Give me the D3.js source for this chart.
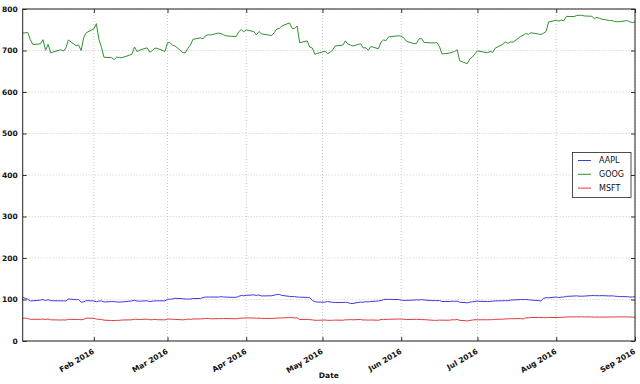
<!DOCTYPE html>
<html><head><meta charset="utf-8">
<script src="https://cdn.jsdelivr.net/npm/d3@7"></script>
<style>
html,body{margin:0;padding:0;background:#fff;}
text{font-family:"DejaVu Sans","Liberation Sans",sans-serif;}
</style>
</head><body>
<svg id="chart" width="640" height="384"></svg>
<script>
// Trading calendar: Jan 4 2016 .. Sep 1 2016, weekdays minus market holidays
const startDate = "2016-01-04";
const endDate = "2016-09-01";
const holidays = ["2016-01-18","2016-02-15","2016-03-25","2016-05-30","2016-07-04"];
const seriesNames = ["AAPL","GOOG","MSFT"];
const yTicks = [0,100,200,300,400,500,600,700,800];
const xTickLabels = ["Feb 2016","Mar 2016","Apr 2016","May 2016","Jun 2016","Jul 2016","Aug 2016","Sep 2016"];

const AAPL = [
 105.35,102.71,100.70,96.45,96.96,98.53,99.96,97.39,99.52,97.13,96.66,96.79,96.30,101.42,99.44,99.99,93.42,94.09,97.34,
 96.43,94.48,96.35,96.60,94.02,95.01,94.99,94.27,93.70,93.99,96.64,98.12,96.26,96.04,96.88,94.69,96.10,96.76,96.91,96.69,
 100.53,100.75,101.50,103.01,101.87,101.03,101.12,101.17,102.26,102.52,104.58,105.97,105.80,105.92,105.91,106.72,106.13,105.67,105.19,107.68,109.56,108.99,
 109.99,111.12,109.81,110.96,108.54,108.66,109.02,110.44,112.04,112.10,109.85,107.48,106.91,107.13,105.97,105.68,105.08,104.35,97.82,94.83,93.74,
 93.64,95.18,94.19,93.24,92.72,92.79,93.42,92.51,90.34,90.52,93.88,93.49,94.56,94.20,95.22,96.43,97.90,99.62,100.41,100.35,99.86,
 98.46,97.72,97.92,98.63,99.03,98.94,99.65,98.83,97.34,97.46,97.14,97.55,95.33,95.10,95.91,95.55,96.10,93.40,92.04,93.59,94.40,95.60,
 95.89,94.99,95.53,95.94,96.68,96.98,97.42,96.87,98.79,98.78,99.83,99.87,99.96,99.43,98.66,97.34,96.67,102.95,104.34,104.21,
 106.05,104.48,105.79,105.87,107.48,108.37,108.81,108.00,107.93,108.18,109.48,109.38,109.22,109.08,109.36,108.51,108.85,108.03,107.57,106.94,106.82,106.00,106.10,
 106.73];

const GOOG = [
 741.84,742.58,743.62,726.39,714.47,716.03,726.07,700.56,714.72,694.45,701.79,698.45,706.59,725.25,711.67,713.04,699.99,730.96,742.95,
 752.00,764.65,726.95,708.01,683.57,682.74,678.11,684.12,683.11,682.40,691.00,708.40,697.35,700.91,706.46,695.85,699.56,705.75,705.07,697.77,
 718.81,718.85,712.42,710.89,695.16,693.97,705.24,712.82,726.82,730.49,728.33,736.09,737.78,737.60,742.09,740.75,738.06,735.30,733.53,744.77,750.53,744.95,
 749.91,745.29,737.80,745.69,740.28,739.15,736.10,743.09,751.72,753.20,759.00,766.61,753.93,752.67,759.14,718.77,723.15,708.14,705.84,691.02,693.01,
 698.21,692.36,695.70,701.43,711.12,712.90,723.18,715.29,713.31,710.83,716.49,706.23,706.63,700.32,709.74,704.24,720.09,725.27,724.12,732.66,735.72,
 734.15,730.40,722.34,716.55,716.65,728.28,728.58,719.41,718.36,718.27,718.92,710.36,691.72,693.71,695.94,697.46,701.87,675.22,668.26,680.04,684.11,692.10,
 699.21,694.49,697.77,695.36,705.63,715.09,720.64,716.98,720.95,719.85,733.78,736.96,741.19,738.63,742.74,739.77,738.42,741.77,745.91,768.79,
 772.88,771.07,773.18,771.61,782.22,781.76,784.26,784.68,784.85,783.22,782.44,777.14,779.91,777.50,775.42,772.15,772.08,769.64,769.41,769.54,772.15,769.09,767.05,
 768.78];

const MSFT = [
 54.80,55.05,54.05,52.17,52.33,52.30,52.78,51.64,53.11,50.99,50.56,50.79,50.48,52.29,51.79,52.17,51.22,52.06,55.09,
 54.71,53.00,52.16,52.00,50.16,49.41,49.28,49.71,49.69,50.50,51.09,52.42,52.19,51.82,52.65,51.18,51.36,52.10,51.30,50.88,
 52.58,52.95,52.35,52.03,51.03,51.65,52.84,52.05,53.07,53.17,53.59,54.35,54.66,53.49,53.86,54.07,53.97,54.21,53.54,54.71,55.05,55.23,
 55.57,55.43,54.56,55.12,54.46,54.42,54.31,54.65,55.35,55.36,55.65,56.46,56.39,55.59,55.78,51.78,52.11,51.44,50.94,49.90,49.87,
 50.61,49.78,49.87,49.94,50.39,50.07,51.02,51.05,51.51,51.08,51.83,50.51,50.81,50.32,50.62,50.03,51.59,52.12,51.89,52.32,53.00,
 52.85,52.48,51.79,52.13,52.10,52.04,51.62,51.48,50.14,49.83,49.69,50.39,50.13,50.07,51.19,50.99,51.91,49.83,48.43,49.44,50.54,51.17,
 51.16,51.17,51.38,51.38,52.30,52.59,53.21,53.51,53.74,53.70,53.96,53.09,55.91,55.80,56.57,56.73,56.76,56.19,56.21,56.68,
 56.58,56.58,56.97,57.39,57.96,58.06,58.20,58.02,58.30,57.94,58.12,57.44,57.56,57.60,57.62,57.67,57.89,57.95,58.17,58.03,58.10,57.89,57.46,
 57.59];

const colors = {AAPL:"#3b3be0", GOOG:"#2f922f", MSFT:"#e23a3a"};

const parse = d3.timeParse("%Y-%m-%d");
const fmt = d3.timeFormat("%Y-%m-%d");
const t0 = parse(startDate), t1 = parse(endDate);
const dates = d3.timeDay.range(t0, d3.timeDay.offset(t1, 1))
  .filter(d => d.getDay() !== 0 && d.getDay() !== 6 && !holidays.includes(fmt(d)));

const series = {AAPL, GOOG, MSFT};

const L = 22.7, R = 635, T = 9, B = 341;
const svg = d3.select("#chart");
const x = d3.scaleTime().domain([t0, t1]).range([L, R]);
const y = d3.scaleLinear().domain([0, 800]).range([B, T]);

const tickDates = xTickLabels.map(s => d3.timeParse("%b %Y")(s));

// grid
const grid = svg.append("g").attr("stroke", "#a8a8a8").attr("stroke-width", 0.6).attr("stroke-dasharray", "1,2");
yTicks.forEach(v => grid.append("line").attr("x1", L).attr("x2", R).attr("y1", y(v)).attr("y2", y(v)));
tickDates.forEach(d => grid.append("line").attr("x1", x(d)).attr("x2", x(d)).attr("y1", T).attr("y2", B));

// lines
const lineGen = d3.line().x((d, i) => x(dates[i])).y(d => y(d));
seriesNames.forEach(n => {
  svg.append("path").datum(series[n]).attr("d", lineGen)
    .attr("fill", "none").attr("stroke", colors[n]).attr("stroke-width", 1).attr("stroke-linejoin", "round");
});

// axes (inward ticks, both sides)
const axL = svg.append("g").attr("transform", `translate(${L},0)`)
  .call(d3.axisRight(y).tickValues(yTicks).tickSize(4).tickFormat(""));
const axR = svg.append("g").attr("transform", `translate(${R},0)`)
  .call(d3.axisLeft(y).tickValues(yTicks).tickSize(4).tickFormat(""));
const axB = svg.append("g").attr("transform", `translate(0,${B})`)
  .call(d3.axisTop(x).tickValues(tickDates).tickSize(4).tickFormat(""));
const axT = svg.append("g").attr("transform", `translate(0,${T})`)
  .call(d3.axisBottom(x).tickValues(tickDates).tickSize(4).tickFormat(""));
[axL, axR, axB, axT].forEach(a => { a.select(".domain").remove(); a.selectAll("line").attr("stroke", "#000").attr("stroke-width", 0.8); });

svg.append("rect").attr("x", L).attr("y", T).attr("width", R - L).attr("height", B - T)
  .attr("fill", "none").attr("stroke", "#222").attr("stroke-width", 1);

// y labels
svg.append("g").selectAll("text").data(yTicks).join("text")
  .attr("x", L - 5).attr("y", d => y(d)).attr("dy", "0.35em")
  .attr("text-anchor", "end").attr("font-size", 7.5).attr("font-weight", "bold").attr("fill", "#111")
  .text(d => d);

// x labels rotated
svg.append("g").selectAll("text").data(tickDates).join("text")
  .attr("transform", d => `translate(${x(d) + 1},${B + 12}) rotate(-30)`)
  .attr("text-anchor", "end").attr("font-size", 7.5).attr("font-weight", "bold").attr("fill", "#111")
  .text((d, i) => xTickLabels[i]);

svg.append("text").attr("x", (L + R) / 2).attr("y", 378).attr("text-anchor", "middle")
  .attr("font-size", 7.5).attr("font-weight", "bold").attr("fill", "#111").text("Date");

// legend
const lg = svg.append("g");
lg.append("rect").attr("x", 572.5).attr("y", 152.5).attr("width", 58.5).attr("height", 45)
  .attr("fill", "#fff").attr("stroke", "#222").attr("stroke-width", 0.8);
seriesNames.forEach((n, i) => {
  const yy = 160.5 + i * 13.8;
  lg.append("line").attr("x1", 578).attr("x2", 591).attr("y1", yy).attr("y2", yy)
    .attr("stroke", colors[n]).attr("stroke-width", 1);
  lg.append("text").attr("x", 599).attr("y", yy).attr("dy", "0.35em")
    .attr("font-size", 8).attr("fill", "#111").text(n);
});
</script>
</body></html>
